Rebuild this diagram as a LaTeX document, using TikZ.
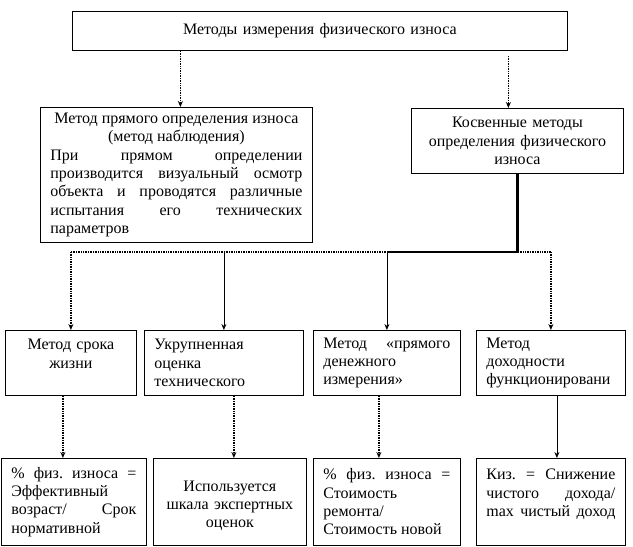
\documentclass[tikz,border=0pt]{standalone}
\usepackage{fontspec}
\setmainfont{Liberation Serif}
\usetikzlibrary{arrows.meta}
\tolerance=10000
\hbadness=10000
\frenchspacing

\tikzset{
  box/.style={draw, line width=0.8pt, anchor=north west, inner xsep=10pt, inner ysep=4pt},
  link/.style={line width=0.8pt, -{Stealth[length=6pt,width=5pt]}},
  dlink/.style={link, dash pattern=on 1pt off 0.7pt, line width=1.2pt},
}

\begin{document}
\begin{tikzpicture}[x=1pt, y=-1pt, font=\fontsize{16}{18.3}\selectfont]
\useasboundingbox (0,0) rectangle (633,547);

% top level
\node[box, text width=475pt, minimum height=39pt, align=center] (top) at (72,11) {Методы измерения физического износа};

% second level
\node[box, text width=252pt, minimum height=135pt, align=justify] (direct) at (40,107)
  {{\centering Метод прямого определения износа\\(метод наблюдения)\par}
   При прямом определении\linebreak производится визуальный осмотр\linebreak объекта и проводятся различные\linebreak испытания его технических\linebreak параметров};
\node[box, text width=192pt, minimum height=65pt, align=center] (indirect) at (411,108)
  {Косвенные методы\\определения физического\\износа};

% indirect methods
\node[box, text width=111pt, minimum height=65pt, align=center] (life) at (5,330) {Метод срока\\жизни\\\mbox{}};
\node[box, text width=139pt, minimum height=65pt, align=left] (aggr) at (144,330) {Укрупненная\\оценка\\технического};
\node[box, text width=127pt, minimum height=65pt, align=justify] (money) at (313,330)
  {Метод «прямого\linebreak денежного\linebreak измерения»};
\node[box, text width=129pt, minimum height=65pt, align=left] (income) at (476,330) {Метод\\доходности\\функционировани};

% formulas
\node[box, text width=125pt, minimum height=87pt, align=justify] (lifeF) at (1,458)
  {\% физ. износа =\linebreak Эффективный\linebreak возраст/ Срок\linebreak нормативной};
\node[box, text width=133pt, minimum height=87pt, align=center] (aggrF) at (153,458)
  {\mbox{}\\Используется\\шкала экспертных\\оценок};
\node[box, text width=127pt, minimum height=87pt, align=justify] (moneyF) at (313,458)
  {\% физ. износа =\linebreak Стоимость\linebreak ремонта/\linebreak Стоимость новой};
\node[box, text width=129pt, minimum height=87pt, align=justify] (incomeF) at (476,458)
  {Киз. = Снижение\linebreak чистого дохода/\linebreak max чистый доход\linebreak\mbox{}};

% connectors
\coordinate (bus) at (0,252);
\draw[dlink] ([xshift=4pt]direct.north |- top.south) -- ([xshift=4pt]direct.north);
\draw[dlink] ([xshift=-9pt,yshift=-5pt]indirect.north |- top.south) -- ([xshift=-9pt]indirect.north);
\draw[dash pattern=on 1pt off 0.7pt, line width=1.2pt] (life.north |- bus) -- (income.north |- bus);
\draw[line width=2.4pt] (indirect.south) |- (money.north |- bus);
\draw[dlink] (life.north |- bus) -- (life.north);
\draw[link] (aggr.north |- bus) -- (aggr.north);
\draw[link] (money.north |- bus) -- (money.north);
\draw[dlink] (income.north |- bus) -- (income.north);

\draw[dlink] ([xshift=-8pt]life.south) -- ([xshift=-8pt]life.south |- lifeF.north);
\draw[dlink] ([xshift=10pt]aggr.south) -- ([xshift=10pt]aggr.south |- aggrF.north);
\draw[dlink] ([xshift=-8pt]money.south) -- ([xshift=-8pt]money.south |- moneyF.north);
\draw[link] ([xshift=6pt]income.south) -- ([xshift=6pt]income.south |- incomeF.north);
\end{tikzpicture}
\end{document}
